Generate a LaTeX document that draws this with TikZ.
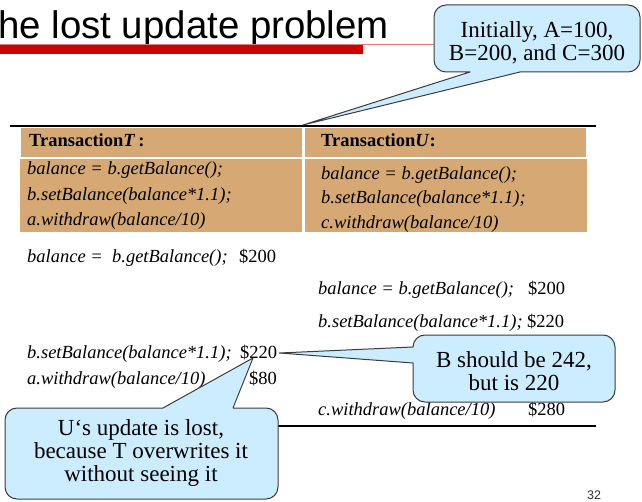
\documentclass[tikz,border=0pt]{standalone}
\usepackage{fontspec}
\usetikzlibrary{calc}
\setmainfont{Liberation Serif}
\newfontfamily\slidesans{Liberation Sans}

\definecolor{cellfill}{RGB}{214,168,116}
\definecolor{barred}{RGB}{204,0,0}
\definecolor{rulepink}{RGB}{226,124,124}
\definecolor{bubblefill}{RGB}{204,236,255}
\definecolor{bubbleedge}{RGB}{60,60,60}

\tikzset{
  codeline/.style={font=\fontsize{18.5}{20}\selectfont\itshape, anchor=base west, inner sep=0pt},
  amount/.style={font=\fontsize{18.5}{20}\selectfont, anchor=base west, inner sep=0pt},
  hdrtext/.style={font=\fontsize{18.5}{20}\selectfont\bfseries, anchor=base west, inner sep=0pt},
  cell/.style={fill=cellfill, draw=none},
  bubble/.style={draw=bubbleedge, fill=bubblefill, line width=1pt, line join=round},
  bubbletext/.style={font=\fontsize{23}{23.5}\selectfont, align=center, inner sep=0pt},
  heavyrule/.style={line width=2.8pt, black},
}

\begin{document}
\begin{tikzpicture}[x=1pt, y=-1pt]
\useasboundingbox (0,0) rectangle (642,502);

% slide title and underline
\node[font=\slidesans\fontsize{38.4}{40}\selectfont, anchor=base west, inner sep=0pt]
  (title) at (-2,39) {he lost update problem};
\fill[barred] (0,45.3) rectangle (363,54);
\draw[rulepink, line width=1.4pt] (0,44.5) -- (434,44.5);

% transaction table
\draw[heavyrule, line width=2.5pt] (10,126) -- (596,126);
\fill[cell] (21,128) rectangle (302,157);
\fill[cell] (305,128) rectangle (586,157);
\fill[cell] (20,159) rectangle (302,232);
\fill[cell] (305,159) rectangle (587,232);
\coordinate (split) at (303,125);

\node[hdrtext] (hT) at (29,147) {Transaction\textit{T}\,:};
\node[hdrtext] (hU) at (321,147) {Transaction\textit{U}:};

\node[codeline] (t1) at (27,175)   {balance = b.getBalance();};
\node[codeline] (t2) at (27,200.5) {b.setBalance(balance*1.1);};
\node[codeline] (t3) at (27,225.5) {a.withdraw(balance/10)};

\node[codeline] (u1) at (321,180) {balance = b.getBalance();};
\node[codeline] (u2) at (321,204) {b.setBalance(balance*1.1);};
\begin{scope}
  \clip (305,159) rectangle (587,232);
  \node[codeline] (u3) at (321,229) {c.withdraw(balance/10)};
\end{scope}

% interleaved execution
\node[codeline] (r1) at (27,263)  {balance = \ b.getBalance();};
\node[amount]   (v1) at (239,263) {\$200};
\node[codeline] (r2) at (318,295) {balance = b.getBalance();};
\node[amount]   (v2) at (528,295) {\$200};
\node[codeline] (r3) at (318,327) {b.setBalance(balance*1.1);};
\node[amount]   (v3) at (527,327) {\$220};
\node[codeline] (r4) at (27,358)  {b.setBalance(balance*1.1);};
\node[amount]   (v4) at (240,358) {\$220};
\node[codeline] (r5) at (27,384)  {a.withdraw(balance/10)};
\node[amount]   (v5) at (249,384) {\$80};
\node[codeline] (r6) at (318,415) {c.withdraw(balance/10)};
\node[amount]   (v6) at (528,415) {\$280};

\draw[heavyrule] (10,426) -- (596,426);

% callout: initial values
\draw[bubble] (470,72) -- (split) -- (520,72)
  [rounded corners=12pt] -- (640,72) -- (640,5) -- (434,5) -- (434,72) [sharp corners] -- cycle;
\node[bubbletext] (init) at (537,43) {Initially, A=100,\\B=200, and C=300};

% callout: wrong balance
\coordinate (tipB) at ($(v4.base east)+(2,-5)$);
\draw[bubble] (413,363) -- (tipB) -- (413,347)
  [rounded corners=12pt] -- (413,335) -- (615,335) -- (615,402) -- (413,402) [sharp corners] -- cycle;
\node[bubbletext] (wrong) at (514,371) {B should be 242,\\but is 220};

% callout: lost update
\coordinate (tipU) at (253,358);
\draw[bubble] (163,408) -- (tipU) -- (233,408)
  [rounded corners=12pt] -- (278,408) -- (278,499) -- (5,499) -- (5,408) [sharp corners] -- cycle;
\node[bubbletext] (lost) at (141,453) {U‘s update is lost,\\because T overwrites it\\without seeing it};

% page number
\node[font=\slidesans\fontsize{12.5}{13}\selectfont, text=black!80, anchor=base west, inner sep=0pt]
  (page) at (587,499.5) {32};
\end{tikzpicture}
\end{document}
